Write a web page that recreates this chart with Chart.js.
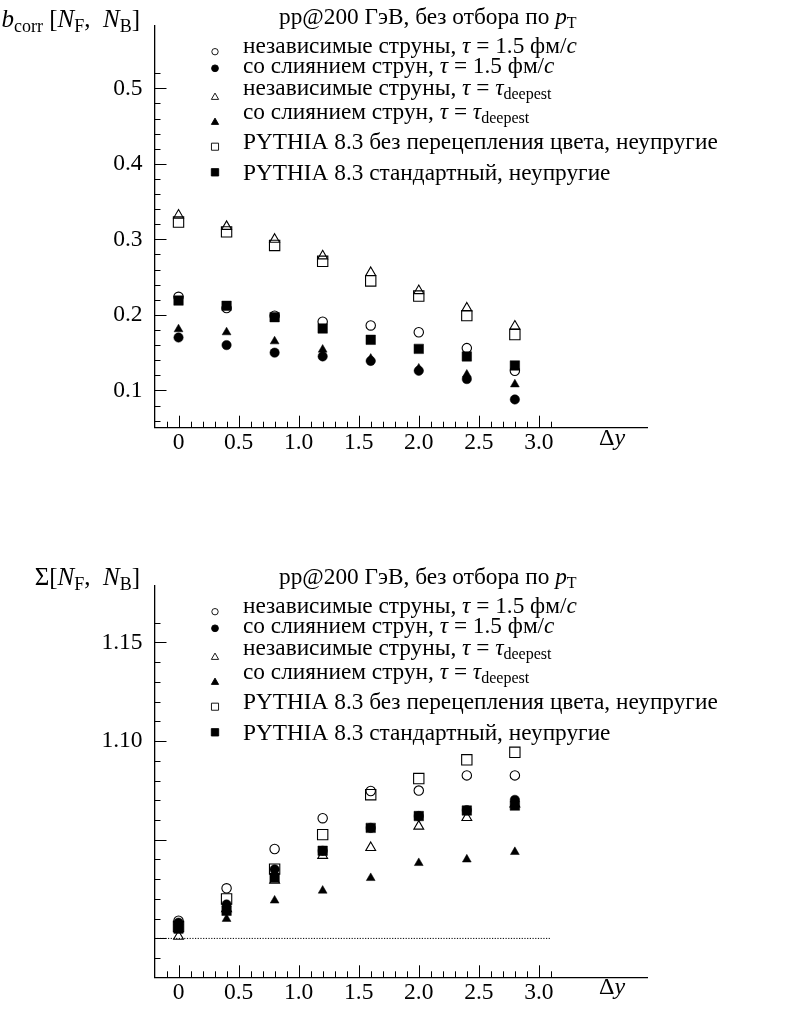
<!DOCTYPE html>
<html>
<head>
<meta charset="utf-8">
<script src="https://cdn.jsdelivr.net/npm/chart.js@4.4.1/dist/chart.umd.min.js"></script>
<style>
  body { margin: 0; background: #fff; }
  canvas { position: absolute; left: 0; }
</style>
</head>
<body>
<canvas id="bcorr" width="792" height="560" style="top:0"></canvas>
<canvas id="sigma" width="792" height="449" style="top:560px"></canvas>
<script>
// rapidity gap between windows
const dyValues = [0, 0.4, 0.8, 1.2, 1.6, 2.0, 2.4, 2.8];

// b_corr[N_F, N_B]
const bIndepTau15 = [0.224, 0.209, 0.199, 0.191, 0.186, 0.177, 0.156, 0.126];
const bMergeTau15 = [0.170, 0.160, 0.150, 0.145, 0.139, 0.126, 0.115, 0.088];
const bIndepDeep  = [0.332, 0.317, 0.300, 0.278, 0.256, 0.232, 0.209, 0.185];
const bMergeDeep  = [0.181, 0.177, 0.165, 0.154, 0.142, 0.129, 0.121, 0.108];
const bPythiaNoCR = [0.323, 0.310, 0.292, 0.271, 0.245, 0.225, 0.199, 0.174];
const bPythiaStd  = [0.219, 0.212, 0.197, 0.182, 0.167, 0.155, 0.145, 0.133];

// Sigma[N_F, N_B]
const sIndepTau15 = [1.009, 1.0254, 1.0453, 1.0609, 1.0747, 1.0749, 1.0826, 1.0826];
const sMergeTau15 = [1.008, 1.0172, 1.0350, 1.0444, 1.0560, 1.0620, 1.0650, 1.0702];
const sIndepDeep  = [1.001, 1.0150, 1.0294, 1.0420, 1.0460, 1.0568, 1.0612, 1.0680];
const sMergeDeep  = [1.004, 1.0099, 1.0192, 1.0242, 1.0306, 1.0382, 1.0400, 1.0438];
const sPythiaNoCR = [1.006, 1.0200, 1.0351, 1.0526, 1.0728, 1.0810, 1.0905, 1.0943];
const sPythiaStd  = [1.005, 1.0140, 1.0307, 1.0444, 1.0560, 1.0620, 1.0648, 1.0673];
const sigmaRefLine = [{x: -0.2, y: 1.0}, {x: 3.1, y: 1.0}];

// tick labels
const xTickLabels = [0, 0.5, 1.0, 1.5, 2.0, 2.5, 3.0];
const bTickLabels = [0.1, 0.2, 0.3, 0.4, 0.5];
const sTickLabels = [1.10, 1.15];

const seriesNames = [
  'независимые струны, τ = 1.5 фм/c',
  'со слиянием струн, τ = 1.5 фм/c',
  'независимые струны, τ = τdeepest',
  'со слиянием струн, τ = τdeepest',
  'PYTHIA 8.3 без перецепления цвета, неупругие',
  'PYTHIA 8.3 стандартный, неупругие'
];
// same labels, split in roman (n), italic (i) and subscript (s) pieces
const seriesRich = [
  [['независимые струны, ', 'n'], ['τ', 'i'], [' = 1.5 фм/', 'n'], ['c', 'i']],
  [['со слиянием струн, ', 'n'], ['τ', 'i'], [' = 1.5 фм/', 'n'], ['c', 'i']],
  [['независимые струны, ', 'n'], ['τ', 'i'], [' = ', 'n'], ['τ', 'i'], ['deepest', 's']],
  [['со слиянием струн, ', 'n'], ['τ', 'i'], [' = ', 'n'], ['τ', 'i'], ['deepest', 's']],
  [['PYTHIA 8.3 без перецепления цвета, неупругие', 'n']],
  [['PYTHIA 8.3 стандартный, неупругие', 'n']]
];
const titleRich = [['pp@200 ГэВ, без отбора по ', 'n'], ['p', 'i'], ['T', 's']];
const bAxisTitle = [['b', 'i'], ['corr', 's'], [' [', 'n'], ['N', 'i'], ['F', 's'], [',  ', 'n'], ['N', 'i'], ['B', 's'], [']', 'n']];
const sAxisTitle = [['Σ[', 'n'], ['N', 'i'], ['F', 's'], [',  ', 'n'], ['N', 'i'], ['B', 's'], [']', 'n']];
const xAxisTitle = [['Δ', 'n'], ['y', 'i']];

const FONT = "'Liberation Serif', 'DejaVu Serif', serif";
const markers = [
  {style: 'circle',   r: 4.7, fill: false, lr: 3.2},
  {style: 'circle',   r: 4.7, fill: true,  lr: 3.4},
  {style: 'triangle', r: 5.7, fill: false, lr: 4.2},
  {style: 'triangle', r: 5.1, fill: true,  lr: 4.2},
  {style: 'rect',     r: 7.3, fill: false, lr: 5.0},
  {style: 'rect',     r: 6.7, fill: true,  lr: 5.2}
];

function range(from, to, step) {
  const out = [];
  const n = Math.round((to - from) / step);
  for (let i = 0; i <= n; i++) out.push(+(from + i * step).toFixed(4));
  return out;
}

function drawRich(ctx, segs, x, y, align, size, sub) {
  size = size || 23.3;
  sub = sub || 16;
  const fontFor = k => k === 's' ? sub + 'px ' + FONT : (k === 'i' ? 'italic ' + size + 'px ' + FONT : size + 'px ' + FONT);
  let total = 0;
  segs.forEach(([t, k]) => { ctx.font = fontFor(k); total += ctx.measureText(t).width; });
  if (align === 'right') x -= total;
  ctx.textBaseline = 'alphabetic';
  ctx.textAlign = 'left';
  segs.forEach(([t, k]) => {
    ctx.font = fontFor(k);
    ctx.fillText(t, x, y + (k === 's' ? size * 0.19 : 0));
    x += ctx.measureText(t).width;
  });
}

// inward tick marks, axis titles, legend
const paperDecor = {
  id: 'paperDecor',
  afterDraw(chart, args, o) {
    const ctx = chart.ctx;
    const {x, y} = chart.scales;
    const ca = chart.chartArea;
    ctx.save();
    ctx.strokeStyle = '#000';
    ctx.fillStyle = '#000';
    ctx.lineWidth = 1;
    const isMajor = (v, list) => list.some(m => Math.abs(m - v) < 1e-6);
    ctx.beginPath();
    o.xMinor.forEach(v => {
      const px = Math.round(x.getPixelForValue(v)) + 0.5;
      const len = isMajor(v, o.xMajor) ? 12 : 6;
      ctx.moveTo(px, ca.bottom); ctx.lineTo(px, ca.bottom - len);
    });
    o.yMinor.forEach(v => {
      const py = Math.round(y.getPixelForValue(v)) + 0.5;
      const len = isMajor(v, o.yMajor) ? 12 : 6;
      ctx.moveTo(ca.left, py); ctx.lineTo(ca.left + len, py);
    });
    ctx.stroke();

    drawRich(ctx, o.yTitle, 140, o.yTitleY, 'right', 25, 18);
    drawRich(ctx, xAxisTitle, 599, ca.bottom + 17, 'left', 24);
    drawRich(ctx, titleRich, 279, 24);

    seriesRich.forEach((segs, i) => {
      drawRich(ctx, segs, 243, o.rowY[i]);
      const m = markers[i];
      ctx.fillStyle = m.fill ? '#000' : '#fff';
      ctx.strokeStyle = '#000';
      ctx.lineWidth = 0.9;
      Chart.helpers.drawPoint(ctx, {pointStyle: m.style, radius: m.lr, rotation: 0, borderWidth: 0.9}, 215, o.symY[i]);
      ctx.fillStyle = '#000';
    });
    ctx.restore();
  }
};

function seriesSets(lists) {
  return lists.map((vals, i) => ({
    type: 'scatter',
    label: seriesNames[i],
    data: dyValues.map((dx, j) => ({x: dx, y: vals[j]})),
    pointStyle: markers[i].style,
    pointRadius: markers[i].r,
    pointHoverRadius: markers[i].r,
    backgroundColor: markers[i].fill ? '#000' : 'rgba(0,0,0,0)',
    borderColor: '#000',
    borderWidth: markers[i].fill ? 0.5 : 1.1
  }));
}

function makeChart(id, cfg) {
  const canvas = document.getElementById(id);
  return new Chart(canvas.getContext('2d'), {
    type: 'scatter',
    data: {datasets: cfg.datasets},
    options: {
      responsive: false,
      animation: false,
      devicePixelRatio: 1,
      layout: {padding: {top: cfg.axisTop, right: 792 - 647, left: 0, bottom: 0}},
      plugins: {
        legend: {display: false},
        tooltip: {enabled: false},
        paperDecor: cfg.decor
      },
      scales: {
        x: {
          type: 'linear',
          min: -0.2,
          max: 3.9,
          grid: {display: false, drawTicks: false},
          border: {display: true, color: '#000', width: 1.3},
          afterBuildTicks: s => { s.ticks = xTickLabels.map(v => ({value: v})); },
          afterFit: s => { s.height = canvas.height - cfg.axisBottom; },
          ticks: {
            autoSkip: false, maxRotation: 0, padding: 1, color: '#000',
            font: {family: FONT, size: 23.5},
            callback: v => v === 0 ? '0' : v.toFixed(1)
          }
        },
        y: {
          type: 'linear',
          min: cfg.yMin,
          max: cfg.yMax,
          grid: {display: false, drawTicks: false},
          border: {display: true, color: '#000', width: 1.3},
          afterBuildTicks: s => { s.ticks = cfg.yLabels.map(v => ({value: v})); },
          afterFit: s => { s.width = 154.5; },
          ticks: {
            autoSkip: false, padding: 12, color: '#000',
            font: {family: FONT, size: 23.5},
            callback: v => v.toFixed(cfg.digits)
          }
        }
      }
    },
    plugins: [paperDecor]
  });
}

const legendRowY = [53, 73, 95, 119, 149, 180];
const legendSymY = [51.7, 68.3, 97.3, 122.3, 146.7, 172.3];

makeChart('bcorr', {
  datasets: seriesSets([bIndepTau15, bMergeTau15, bIndepDeep, bMergeDeep, bPythiaNoCR, bPythiaStd]),
  axisTop: 15, axisBottom: 427.7, yMin: 0.0506, yMax: 0.5825,
  yLabels: bTickLabels, digits: 1,
  decor: {
    xMinor: range(-0.1, 3.1, 0.1), xMajor: range(0, 3.0, 0.5),
    yMinor: range(0.06, 0.52, 0.02), yMajor: range(0.1, 0.5, 0.1),
    yTitle: bAxisTitle, yTitleY: 27, rowY: legendRowY, symY: legendSymY
  }
});

const sigmaSets = seriesSets([sIndepTau15, sMergeTau15, sIndepDeep, sMergeDeep, sPythiaNoCR, sPythiaStd]);
sigmaSets.push({
  type: 'line',
  label: 'Σ = 1',
  data: sigmaRefLine,
  borderColor: '#000',
  borderWidth: 1,
  borderDash: [1.2, 1.5],
  pointRadius: 0,
  showLine: true
});

makeChart('sigma', {
  datasets: sigmaSets,
  axisTop: 11.7, axisBottom: 417.3, yMin: 0.9803, yMax: 1.1785,
  yLabels: sTickLabels, digits: 2,
  decor: {
    xMinor: range(-0.1, 3.1, 0.1), xMajor: range(0, 3.0, 0.5),
    yMinor: range(0.99, 1.16, 0.01), yMajor: [1.00, 1.05, 1.10, 1.15],
    yTitle: sAxisTitle, yTitleY: 25, rowY: legendRowY, symY: legendSymY
  }
});
</script>
</body>
</html>
